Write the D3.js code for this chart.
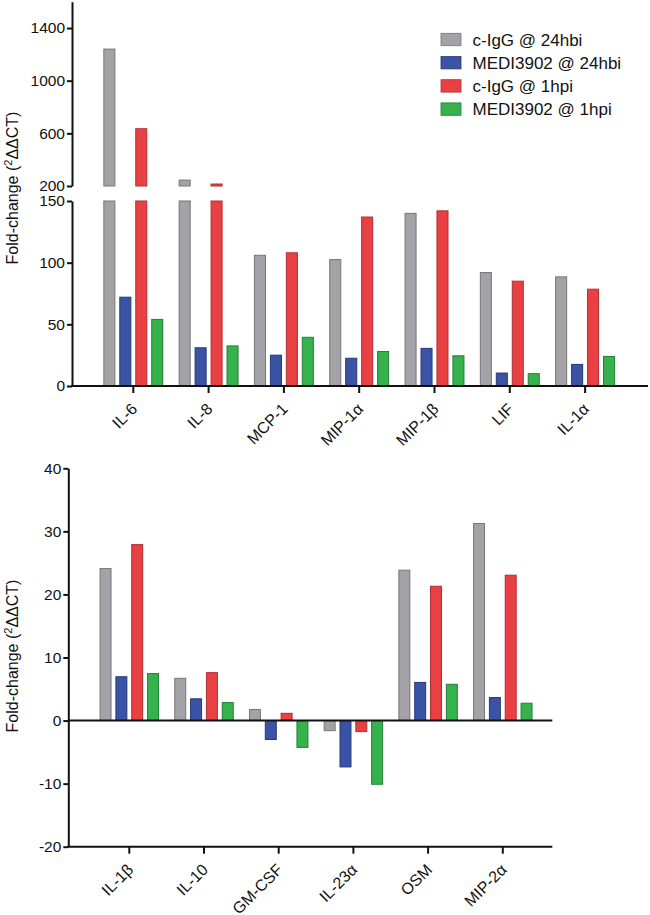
<!DOCTYPE html>
<html>
<head>
<meta charset="utf-8">
<script src="https://cdn.jsdelivr.net/npm/d3@7"></script>
<style>
  html, body { margin: 0; padding: 0; background: #fff; }
  svg { display: block; font-family: "Liberation Sans", Arial, sans-serif; }
</style>
</head>
<body>
<svg id="chart" width="650" height="915"></svg>
<script>
// ---------- DATA ----------
const seriesNames = ["c-IgG @ 24hbi", "MEDI3902 @ 24hbi", "c-IgG @ 1hpi", "MEDI3902 @ 1hpi"];
const seriesFill = ["#a3a3a7", "#3a53a4", "#e94043", "#35b24b"];
const seriesStroke = ["#76767a", "#25397a", "#b02f33", "#237f36"];

// Top panel
const topCategories = ["IL-6", "IL-8", "MCP-1", "MIP-1α", "MIP-1β", "LIF", "IL-1α"];
const topCIgG24 = [1240, 245, 106, 102.5, 140, 92, 88.5];
const topMEDI24 = [72, 31, 25, 22.5, 30.5, 10.5, 17.5];
const topCIgG1 = [635, 215, 108, 137, 142, 85, 78.5];
const topMEDI1 = [54, 32.5, 39.5, 28, 24.5, 10, 24];
const topUpperTicks = [200, 600, 1000, 1400];
const topLowerTicks = [0, 50, 100, 150];

// Bottom panel
const botCategories = ["IL-1β", "IL-10", "GM-CSF", "IL-23α", "OSM", "MIP-2α"];
const botCIgG24 = [24.1, 6.7, 1.75, -1.6, 23.85, 31.25];
const botMEDI24 = [6.95, 3.45, -3.0, -7.35, 6.05, 3.65];
const botCIgG1 = [27.9, 7.6, 1.15, -1.75, 21.3, 23.05];
const botMEDI1 = [7.45, 2.85, -4.25, -10.1, 5.75, 2.75];
const botTicks = [-20, -10, 0, 10, 20, 30, 40];

const yTitleMain = "Fold-change (";
const yTitleSup = "2";
const yTitleRest = "ΔΔCT)";

// ---------- DRAW ----------
const svg = d3.select("#chart");
const defs = svg.append("defs");
const tickFont = 15.5;
const plainFmt = d => String(d);
let pathId = 0;

function makeTable(cats, arrs) {
  return cats.map((c, i) => ({ cat: c, vals: arrs.map(a => a[i]) }));
}

function drawYTitle(x, yc) {
  const t = svg.append("text")
    .attr("transform", `translate(${x},${yc}) rotate(-90)`)
    .attr("text-anchor", "middle")
    .attr("font-size", 16)
    .attr("fill", "#111");
  t.append("tspan").text(yTitleMain);
  t.append("tspan").attr("font-size", 11).attr("dy", -6).text(yTitleSup);
  t.append("tspan").attr("dy", 6).text(yTitleRest);
}

function styleAxis(g) {
  g.selectAll("path.domain").attr("stroke", "#111").attr("stroke-width", 2);
  g.selectAll(".tick line").attr("stroke", "#111").attr("stroke-width", 2);
  g.selectAll(".tick text").attr("font-size", tickFont).attr("fill", "#111")
    .attr("font-family", "Liberation Sans, Arial, sans-serif");
}

// 45-degree category labels laid along a diagonal path ending near the tick
function catLabels(x0, cats, axisY) {
  cats.forEach(d => {
    const px = x0(d) + x0.bandwidth() / 2 + 5, py = axisY + 24;
    const id = "lab" + (pathId++);
    defs.append("path").attr("id", id)
      .attr("d", `M${px - 120},${py + 120}L${px},${py}`);
    svg.append("text")
      .attr("font-size", 16).attr("fill", "#111").attr("text-anchor", "end")
      .append("textPath").attr("href", "#" + id).attr("startOffset", "100%")
      .text(d);
  });
}

// ===== TOP PANEL =====
(function () {
  const axisX = 72, axisY = 386, rightX = 648;
  const x0 = d3.scaleBand().domain(topCategories).range([95.65, 95.65 + 7 * 75.3]);
  const x1 = d3.scaleBand().domain(seriesNames).range([0, x0.bandwidth()])
    .paddingInner(0.308).paddingOuter(0.513);
  const yLow = d3.scaleLinear().domain([0, 150]).range([386, 201]);
  const yUp = d3.scaleLinear().domain([200, 1600]).range([186, 1.7]);

  const data = makeTable(topCategories, [topCIgG24, topMEDI24, topCIgG1, topMEDI1]);

  const groups = svg.append("g").selectAll("g").data(data).join("g")
    .attr("transform", d => `translate(${x0(d.cat)},0)`);
  groups.each(function (d) {
    const g = d3.select(this);
    d.vals.forEach((v, i) => {
      const lowTop = yLow(Math.min(v, 150));
      g.append("rect")
        .attr("x", x1(seriesNames[i])).attr("width", x1.bandwidth())
        .attr("y", lowTop).attr("height", yLow(0) - lowTop)
        .attr("fill", seriesFill[i]).attr("stroke", seriesStroke[i]).attr("stroke-width", 1);
      if (v > 200) {
        g.append("rect")
          .attr("x", x1(seriesNames[i])).attr("width", x1.bandwidth())
          .attr("y", yUp(v)).attr("height", yUp(200) - yUp(v))
          .attr("fill", seriesFill[i]).attr("stroke", seriesStroke[i]).attr("stroke-width", 1);
      }
    });
  });

  // Y axes (broken)
  const gUp = svg.append("g").attr("transform", `translate(${axisX},0)`)
    .call(d3.axisLeft(yUp).tickValues(topUpperTicks).tickFormat(plainFmt).tickSize(5).tickSizeOuter(0).tickPadding(2));
  styleAxis(gUp);
  const gLow = svg.append("g").attr("transform", `translate(${axisX},0)`)
    .call(d3.axisLeft(yLow).tickValues(topLowerTicks).tickFormat(plainFmt).tickSize(5).tickSizeOuter(0).tickPadding(2));
  styleAxis(gLow);

  // X axis
  const gx = svg.append("g").attr("transform", `translate(0,${axisY})`)
    .call(d3.axisBottom(x0).tickSize(7).tickFormat(""));
  gx.select("path.domain").remove();
  styleAxis(gx);
  svg.append("line").attr("x1", axisX - 1).attr("x2", rightX)
    .attr("y1", axisY).attr("y2", axisY).attr("stroke", "#111").attr("stroke-width", 2);
  catLabels(x0, topCategories, axisY);

  drawYTitle(18, 188);

  // Legend
  const lg = svg.append("g").attr("transform", "translate(441,33.3)");
  const rows = lg.selectAll("g").data(seriesNames).join("g")
    .attr("transform", (d, i) => `translate(0,${i * 23.2})`);
  rows.append("rect").attr("width", 20).attr("height", 12.4)
    .attr("fill", (d, i) => seriesFill[i]).attr("stroke", (d, i) => seriesStroke[i]).attr("stroke-width", 0.8);
  rows.append("text").attr("x", 31.5).attr("y", 12.4).attr("font-size", 17).attr("fill", "#111").text(d => d);
})();

// ===== BOTTOM PANEL =====
(function () {
  const axisX = 68.3, rightX = 552.3;
  const x0 = d3.scaleBand().domain(botCategories).range([91.95, 91.95 + 6 * 74.7]);
  const x1 = d3.scaleBand().domain(seriesNames).range([0, x0.bandwidth()])
    .paddingInner(0.308).paddingOuter(0.513);
  const y = d3.scaleLinear().domain([-20, 40]).range([846.7, 468.3]);
  const axisY = y(-20);

  const data = makeTable(botCategories, [botCIgG24, botMEDI24, botCIgG1, botMEDI1]);
  const groups = svg.append("g").selectAll("g").data(data).join("g")
    .attr("transform", d => `translate(${x0(d.cat)},0)`);
  groups.selectAll("rect").data(d => d.vals.map((v, i) => ({ v, i }))).join("rect")
    .attr("x", d => x1(seriesNames[d.i])).attr("width", x1.bandwidth())
    .attr("y", d => y(Math.max(0, d.v)))
    .attr("height", d => Math.abs(y(d.v) - y(0)))
    .attr("fill", d => seriesFill[d.i]).attr("stroke", d => seriesStroke[d.i]).attr("stroke-width", 1);

  const gy = svg.append("g").attr("transform", `translate(${axisX},0)`)
    .call(d3.axisLeft(y).tickValues(botTicks).tickFormat(plainFmt).tickSize(5).tickSizeOuter(0).tickPadding(2));
  styleAxis(gy);

  const gx = svg.append("g").attr("transform", `translate(0,${axisY})`)
    .call(d3.axisBottom(x0).tickSize(7).tickFormat(""));
  gx.select("path.domain").remove();
  styleAxis(gx);
  svg.append("line").attr("x1", axisX - 1).attr("x2", rightX)
    .attr("y1", axisY).attr("y2", axisY).attr("stroke", "#111").attr("stroke-width", 2);
  // zero line
  svg.append("line").attr("x1", axisX).attr("x2", rightX)
    .attr("y1", y(0)).attr("y2", y(0)).attr("stroke", "#111").attr("stroke-width", 2);
  catLabels(x0, botCategories, axisY);

  drawYTitle(18, 656);
})();
</script>
</body>
</html>
